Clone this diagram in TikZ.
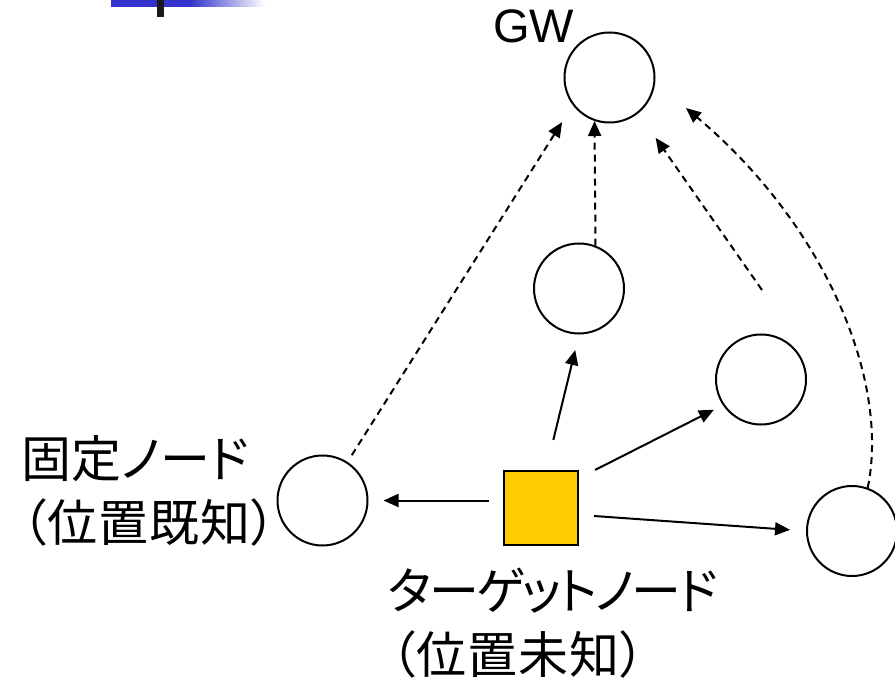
\documentclass[tikz,border=0pt]{standalone}
\usepackage{fontspec}
\setmainfont{Liberation Sans}
\newfontfamily\jp{Noto Sans CJK JP}[RawFeature=+palt]
\newfontfamily\jpkana{Noto Sans CJK JP}[RawFeature=+palt,LetterSpace=-5]
\newfontfamily\jpwide{Noto Sans CJK JP}[RawFeature=+palt,LetterSpace=2]
\usetikzlibrary{arrows.meta,calc}
\definecolor{barblue}{RGB}{51,51,204}
\definecolor{tgtyellow}{RGB}{255,204,0}
\begin{document}
\begin{tikzpicture}[x=1pt,y=-1pt,
  nodecirc/.style={circle,draw,line width=2pt,minimum size=90pt,inner sep=0pt,fill=white},
  arr/.style={line width=2pt,-{Triangle[length=15pt,width=13pt]}},
  darr/.style={line width=2pt,dash pattern=on 7pt off 5pt,-{Triangle[length=15pt,width=13pt]}},
  jplabel/.style={font=\jp\fontsize{50}{64}\selectfont,inner sep=0pt,anchor=base west},
]
\useasboundingbox (0,0) rectangle (895,679);
% slide decoration
\fill[barblue] (111,0) rectangle (190,7);
\shade[left color=barblue,right color=white] (190,0) rectangle (265,7);
\fill[black!90] (157,0) rectangle (164,17);
% nodes
\node[nodecirc] (gw) at (609.5,77.5) {};
\node[nodecirc] (m1) at (579,288.5) {};
\node[nodecirc] (m2) at (761,379.5) {};
\node[nodecirc] (fixed) at (322.5,500.5) {};
\node[nodecirc] (br) at (852,531) {};
\node[draw,line width=2pt,fill=tgtyellow,minimum size=74pt,inner sep=0pt] (tgt) at (541,508) {};
\node[font=\fontsize{47}{56}\selectfont,inner sep=0pt,anchor=base west] (gwlabel) at (493,43) {GW};
% solid arrows
\draw[arr,shorten <=14pt,shorten >=15pt] (tgt.west |- fixed.east) -- (fixed.east);
\draw[arr,shorten <=31pt,shorten >=16pt] ($(tgt.north)+(5,0)$) -- (m1.south);
\draw[arr,shorten >=10pt] ($(tgt.north east)+(16,0)$) -- (m2.214);
\draw[arr,shorten >=16pt] ($(tgt.east)+(15,8)$) -- (br.west);
% dashed arrows
\draw[darr,shorten <=8pt,shorten >=20pt] (fixed.57) -- (gw.217.5);
\draw[darr] (m1.69.6) -- (gw.251.8);
\coordinate (relay) at (762,290);
\draw[darr,shorten >=30pt] (relay) -- (gw.309.2);
\coordinate (loopend) at (686,108);
\draw[darr] (br.70) .. controls (890,380) and (825,225) .. (loopend);
% labels
\node[jplabel] (fixlab1) at (21,477) {固定ノード};
\node[jplabel,font=\jpwide\fontsize{50}{64}\selectfont] (fixlab2) at (21,541) {（位置既知）};
\node[jplabel,font=\jpkana\fontsize{50}{64}\selectfont] (tgtlab1) at (388,609) {ターゲットノード};
\node[jplabel,font=\jpwide\fontsize{50}{64}\selectfont] (tgtlab2) at (390,673) {（位置未知）};
\end{tikzpicture}
\end{document}
